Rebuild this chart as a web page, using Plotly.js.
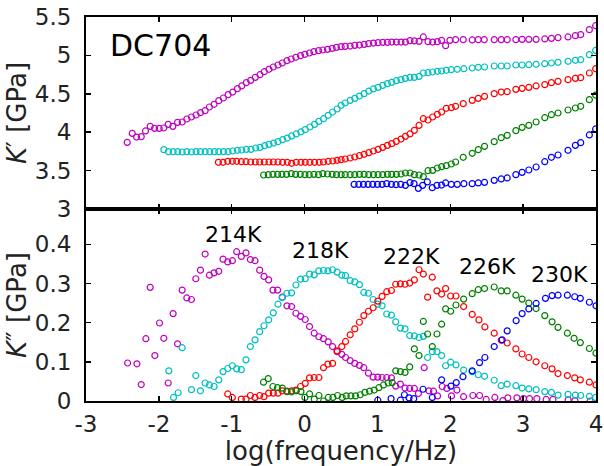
<!DOCTYPE html>
<html>
<head>
<meta charset="utf-8">
<script src="https://cdn.plot.ly/plotly-3.0.1.min.js"></script>
<style>html,body{margin:0;padding:0;background:#fff;}#chart{width:604px;height:466px;}</style>
</head>
<body>
<div id="chart"></div>
<script>
// ---- tick labels ----
const xTickVals = [-3,-2,-1,0,1,2,3,4];
const xTickText = ['-3','-2','-1','0','1','2','3','4'];

// ---- series names / colours ----
const temps = ['214K','218K','222K','226K','230K'];

// ---- K' (storage) ----
const x214p = [-2.434,-2.365,-2.306,-2.242,-2.183,-2.119,-2.059,-1.995,-1.932,-1.872,-1.808,-1.744,-1.680,-1.616,-1.553,-1.489,-1.429,-1.365,-1.306,-1.242,-1.178,-1.114,-1.050,-0.986,-0.922,-0.863,-0.799,-0.740,-0.676,-0.612,-0.553,-0.489,-0.429,-0.365,-0.306,-0.242,-0.183,-0.119,-0.055,0.005,0.068,0.128,0.192,0.251,0.315,0.379,0.438,0.502,0.557,0.626,0.689,0.753,0.817,0.881,0.945,1.009,1.073,1.137,1.196,1.260,1.324,1.384,1.447,1.507,1.571,1.630,1.694,1.758,1.822,1.881,1.936,1.995,2.073,2.178,2.301,2.384,2.466,2.603,2.699,2.781,2.900,2.986,3.078,3.178,3.297,3.388,3.479,3.616,3.717,3.790,3.909,3.995];
const kp214 = [3.868,3.985,3.937,3.942,4.016,4.076,4.050,4.050,4.055,4.102,4.076,4.128,4.133,4.172,4.198,4.224,4.254,4.280,4.328,4.363,4.411,4.445,4.489,4.523,4.567,4.602,4.645,4.675,4.714,4.749,4.788,4.819,4.849,4.875,4.901,4.931,4.953,4.975,4.997,5.014,5.031,5.049,5.062,5.070,5.079,5.092,5.105,5.114,5.118,5.122,5.131,5.135,5.144,5.153,5.161,5.166,5.170,5.170,5.174,5.174,5.174,5.174,5.192,5.188,5.183,5.240,5.179,5.174,5.179,5.196,5.127,5.196,5.205,5.205,5.201,5.205,5.205,5.205,5.205,5.205,5.205,5.209,5.209,5.209,5.214,5.222,5.231,5.240,5.257,5.270,5.335,5.387];

const x218p = [-1.932,-1.868,-1.804,-1.740,-1.680,-1.616,-1.553,-1.489,-1.429,-1.365,-1.301,-1.237,-1.178,-1.114,-1.050,-0.986,-0.922,-0.863,-0.799,-0.735,-0.671,-0.612,-0.548,-0.489,-0.425,-0.365,-0.301,-0.237,-0.178,-0.114,-0.050,0.009,0.073,0.137,0.196,0.260,0.324,0.384,0.447,0.502,0.557,0.626,0.689,0.753,0.817,0.881,0.945,1.009,1.073,1.137,1.196,1.260,1.324,1.384,1.447,1.507,1.571,1.630,1.694,1.758,1.822,1.881,1.945,2.014,2.096,2.187,2.301,2.384,2.470,2.603,2.699,2.781,2.900,2.986,3.078,3.178,3.297,3.388,3.479,3.616,3.717,3.790,3.909,3.995];
const kp218 = [3.773,3.747,3.747,3.747,3.742,3.747,3.742,3.747,3.747,3.747,3.747,3.747,3.747,3.747,3.747,3.755,3.764,3.768,3.777,3.777,3.794,3.803,3.825,3.842,3.859,3.877,3.903,3.924,3.951,3.977,4.003,4.033,4.068,4.102,4.141,4.176,4.220,4.263,4.302,4.350,4.380,4.415,4.441,4.471,4.502,4.536,4.563,4.584,4.610,4.632,4.649,4.671,4.684,4.701,4.714,4.714,4.727,4.771,4.775,4.784,4.793,4.797,4.806,4.814,4.819,4.827,4.836,4.845,4.849,4.862,4.862,4.862,4.875,4.875,4.879,4.884,4.892,4.901,4.910,4.923,4.936,4.944,5.010,5.066];

const x222p = [-1.183,-1.119,-1.055,-0.991,-0.932,-0.868,-0.804,-0.740,-0.676,-0.616,-0.553,-0.489,-0.429,-0.365,-0.301,-0.237,-0.178,-0.114,-0.050,0.009,0.073,0.137,0.201,0.260,0.324,0.388,0.447,0.502,0.557,0.626,0.689,0.753,0.817,0.881,0.945,1.009,1.073,1.137,1.196,1.260,1.324,1.384,1.447,1.507,1.571,1.630,1.694,1.758,1.822,1.881,1.945,2.014,2.073,2.178,2.301,2.384,2.470,2.603,2.699,2.781,2.900,2.986,3.078,3.178,3.297,3.388,3.479,3.616,3.717,3.790,3.909,3.995];
const kp222 = [3.608,3.608,3.621,3.621,3.621,3.616,3.616,3.612,3.612,3.612,3.612,3.612,3.612,3.612,3.608,3.608,3.595,3.608,3.608,3.608,3.608,3.608,3.608,3.612,3.621,3.625,3.634,3.642,3.651,3.664,3.677,3.694,3.712,3.734,3.755,3.777,3.803,3.829,3.851,3.881,3.911,3.946,3.977,4.024,4.089,4.176,4.159,4.198,4.233,4.263,4.311,4.319,4.337,4.372,4.415,4.441,4.467,4.502,4.523,4.528,4.558,4.571,4.584,4.602,4.619,4.645,4.662,4.684,4.701,4.710,4.771,4.827];

const x226p = [-0.562,-0.498,-0.434,-0.370,-0.311,-0.247,-0.183,-0.123,-0.059,0.005,0.064,0.128,0.192,0.251,0.315,0.379,0.438,0.502,0.557,0.626,0.689,0.753,0.817,0.881,0.945,1.009,1.073,1.137,1.196,1.260,1.324,1.384,1.447,1.507,1.571,1.630,1.694,1.758,1.822,1.881,1.945,2.014,2.073,2.178,2.301,2.384,2.470,2.603,2.699,2.781,2.900,2.986,3.078,3.178,3.297,3.388,3.479,3.616,3.717,3.790,3.909,3.995];
const kp226 = [3.443,3.447,3.451,3.451,3.451,3.451,3.460,3.451,3.451,3.447,3.447,3.451,3.447,3.460,3.456,3.451,3.447,3.447,3.447,3.447,3.447,3.451,3.451,3.447,3.447,3.447,3.447,3.451,3.451,3.451,3.456,3.469,3.469,3.447,3.443,3.421,3.499,3.503,3.534,3.551,3.564,3.586,3.612,3.673,3.725,3.773,3.816,3.877,3.929,3.959,4.020,4.063,4.089,4.133,4.189,4.228,4.250,4.289,4.315,4.337,4.424,4.484];

const x230p = [0.680,0.744,0.808,0.872,0.936,1.000,1.064,1.128,1.192,1.256,1.320,1.384,1.447,1.502,1.562,1.621,1.685,1.753,1.817,1.881,1.936,2.014,2.096,2.187,2.301,2.384,2.470,2.603,2.699,2.781,2.900,2.986,3.078,3.178,3.297,3.388,3.479,3.616,3.717,3.790,3.909,3.995];
const kp230 = [3.321,3.321,3.321,3.321,3.321,3.321,3.321,3.330,3.321,3.317,3.321,3.308,3.343,3.330,3.269,3.308,3.352,3.278,3.308,3.312,3.339,3.321,3.321,3.330,3.330,3.339,3.347,3.373,3.391,3.404,3.447,3.477,3.508,3.547,3.616,3.673,3.703,3.764,3.829,3.864,3.964,4.042];

// ---- K'' (loss) ----
const x214pp = [-2.429,-2.301,-2.242,-2.178,-2.119,-2.055,-1.991,-1.932,-1.872,-1.804,-1.744,-1.680,-1.616,-1.553,-1.493,-1.429,-1.365,-1.306,-1.242,-1.178,-1.119,-1.055,-0.991,-0.932,-0.868,-0.804,-0.744,-0.680,-0.616,-0.557,-0.493,-0.434,-0.370,-0.306,-0.242,-0.178,-0.119,-0.055,0.009,0.068,0.132,0.196,0.260,0.324,0.384,0.447,0.511,0.562,0.626,0.689,0.753,0.813,0.877,0.941,1.005,1.064,1.128,1.192,1.251,1.315,1.379,1.443,1.507,1.562,1.642,1.706,1.770,1.825,1.889,1.953,2.017,2.091,2.182,2.310,2.402,2.493,2.612,2.722,2.790,2.914,3.005,3.087,3.188,3.316,3.408,3.618,3.710,3.920];
const kpp214 = [0.097,0.095,0.042,0.159,0.290,0.116,0.199,0.160,0.046,0.223,0.146,0.283,0.263,0.259,0.312,0.334,0.375,0.321,0.327,0.331,0.362,0.355,0.358,0.381,0.369,0.378,0.361,0.358,0.334,0.318,0.309,0.283,0.283,0.265,0.243,0.241,0.224,0.216,0.208,0.190,0.173,0.164,0.159,0.151,0.139,0.126,0.119,0.111,0.103,0.096,0.091,0.085,0.071,0.061,0.061,0.060,0.060,0.059,0.038,0.043,0.033,0.032,0.032,0.019,0.085,0.026,0.025,0.013,0.037,0.032,0.013,0.028,0.011,0.014,0.014,0.004,0.009,0.001,0.008,0.008,0.006,0.006,0.006,0.004,0.004,0.003,0.001,0.000];

const x218pp = [-1.863,-1.799,-1.735,-1.680,-1.553,-1.493,-1.429,-1.365,-1.306,-1.242,-1.178,-1.119,-1.055,-0.991,-0.932,-0.868,-0.804,-0.744,-0.680,-0.616,-0.557,-0.493,-0.429,-0.365,-0.306,-0.242,-0.178,-0.119,-0.055,0.009,0.068,0.132,0.196,0.260,0.320,0.384,0.447,0.511,0.562,0.626,0.689,0.753,0.813,0.877,0.941,1.005,1.064,1.128,1.192,1.251,1.315,1.379,1.443,1.507,1.571,1.630,1.689,1.753,1.817,1.881,1.936,2.005,2.078,2.183,2.301,2.384,2.470,2.603,2.699,2.781,2.900,2.986,3.078,3.178,3.297,3.388,3.479,3.616,3.717,3.790,3.909,3.995];
const kpp218 = [0.077,0.009,0.021,0.136,0.029,0.065,0.026,0.046,0.041,0.037,0.054,0.075,0.083,0.090,0.082,0.080,0.105,0.139,0.156,0.177,0.192,0.207,0.225,0.247,0.264,0.275,0.276,0.296,0.311,0.312,0.324,0.322,0.332,0.333,0.332,0.335,0.329,0.321,0.320,0.307,0.304,0.297,0.277,0.275,0.259,0.247,0.243,0.222,0.219,0.202,0.186,0.184,0.167,0.166,0.162,0.165,0.111,0.126,0.126,0.116,0.090,0.099,0.092,0.079,0.075,0.067,0.063,0.053,0.039,0.043,0.039,0.033,0.031,0.029,0.024,0.022,0.015,0.017,0.015,0.014,0.012,0.009];

const x222pp = [-1.055,-0.991,-0.868,-0.804,-0.744,-0.680,-0.616,-0.557,-0.493,-0.429,-0.365,-0.306,-0.242,-0.178,-0.119,-0.055,0.009,0.068,0.132,0.196,0.260,0.320,0.384,0.447,0.511,0.562,0.626,0.689,0.753,0.813,0.877,0.941,1.005,1.064,1.128,1.192,1.251,1.315,1.379,1.443,1.507,1.571,1.630,1.689,1.753,1.817,1.881,1.936,2.005,2.078,2.183,2.301,2.393,2.475,2.603,2.699,2.781,2.900,2.986,3.078,3.178,3.297,3.397,3.479,3.607,3.708,3.785,3.909,4.000];
const kpp222 = [0.018,0.009,0.005,0.005,0.014,0.009,0.014,0.011,0.020,0.020,0.020,0.026,0.025,0.026,0.028,0.037,0.045,0.059,0.060,0.060,0.085,0.094,0.096,0.128,0.139,0.152,0.169,0.184,0.201,0.218,0.229,0.238,0.255,0.267,0.279,0.282,0.298,0.299,0.298,0.301,0.309,0.335,0.324,0.265,0.316,0.281,0.273,0.287,0.268,0.268,0.241,0.221,0.207,0.189,0.173,0.155,0.148,0.133,0.120,0.111,0.100,0.090,0.082,0.070,0.065,0.059,0.054,0.048,0.041];

const x226pp = [-0.563,-0.499,-0.435,-0.371,-0.306,-0.242,-0.178,-0.114,-0.050,0.005,0.069,0.133,0.197,0.261,0.325,0.389,0.453,0.517,0.572,0.636,0.700,0.764,0.828,0.892,0.956,1.020,1.084,1.148,1.203,1.251,1.315,1.379,1.443,1.507,1.571,1.630,1.689,1.753,1.817,1.881,1.936,2.005,2.078,2.183,2.301,2.384,2.470,2.603,2.699,2.781,2.900,2.986,3.078,3.178,3.297,3.397,3.479,3.607,3.699,3.785,3.909,4.000];
const kpp226 = [0.048,0.057,0.037,0.034,0.033,0.024,0.023,0.026,0.024,0.009,0.018,0.005,0.014,0.000,0.009,0.009,0.014,0.009,0.013,0.013,0.013,0.016,0.022,0.025,0.028,0.034,0.041,0.046,0.047,0.077,0.075,0.073,0.087,0.133,0.116,0.203,0.171,0.139,0.171,0.196,0.235,0.229,0.245,0.260,0.274,0.284,0.287,0.291,0.281,0.281,0.270,0.260,0.250,0.236,0.218,0.202,0.188,0.173,0.160,0.149,0.134,0.122];

const x230pp = [1.005,1.187,1.315,1.370,1.434,1.498,1.626,1.753,1.881,2.009,2.082,2.174,2.301,2.402,2.475,2.603,2.712,2.781,2.904,2.986,3.078,3.178,3.306,3.397,3.479,3.607,3.708,3.785,3.909,4.000];
const kpp230 = [0.002,0.006,0.002,0.016,0.008,0.006,0.030,0.009,0.054,0.038,0.047,0.062,0.077,0.098,0.111,0.139,0.156,0.179,0.205,0.223,0.235,0.249,0.262,0.269,0.270,0.270,0.266,0.262,0.252,0.243];

const colors = ['#bf00bf','#00bfbf','#ff0000','#008000','#0000ff'];
const topX = [x214p,x218p,x222p,x226p,x230p];
const topY = [kp214,kp218,kp222,kp226,kp230];
const botX = [x214pp,x218pp,x222pp,x226pp,x230pp];
const botY = [kpp214,kpp218,kpp222,kpp226,kpp230];

// annotation positions (data coords)
const labelX = [-0.981,0.214,1.462,2.513,3.493];
const labelY = [0.426,0.384,0.368,0.343,0.324];

const FONT = 'DejaVu Sans, Verdana, sans-serif';
const TXT = '#222222';

function mk(c){ return {symbol:'circle-open', size:6, color:c, line:{width:1.2, color:c}}; }

const traces = [];
for (let i=0;i<5;i++){
  traces.push({x:topX[i], y:topY[i], xaxis:'x2', yaxis:'y2', type:'scatter', mode:'markers', marker:mk(colors[i]), name:temps[i], showlegend:false});
  traces.push({x:botX[i], y:botY[i], xaxis:'x', yaxis:'y', type:'scatter', mode:'markers', marker:mk(colors[i]), name:temps[i], showlegend:false});
}

const axBase = {showline:true, linecolor:'#000', linewidth:2, mirror:'ticks', ticks:'inside', ticklen:5, tickwidth:1.5, tickcolor:'#000', showgrid:false, zeroline:false, tickfont:{family:FONT, size:23, color:TXT}};

const annotations = temps.map((t,i)=>({x:labelX[i], y:labelY[i], xref:'x', yref:'y', text:t, showarrow:false, xanchor:'center', yanchor:'middle', font:{family:FONT, size:22, color:'#000'}}));
annotations.push({x:-2.695, y:5.135, xref:'x2', yref:'y2', text:'DC704', showarrow:false, xanchor:'left', yanchor:'middle', font:{family:FONT, size:30, color:'#000'}});

const layout = {
  width:604, height:466,
  margin:{l:86, r:8, t:17, b:65},
  paper_bgcolor:'#fff', plot_bgcolor:'#fff',
  showlegend:false,
  font:{family:FONT, color:TXT},
  xaxis: Object.assign({}, axBase, {domain:[0,1], anchor:'y', range:[-3,4], tickvals:xTickVals, ticktext:xTickText, ticklabelstandoff:1,
          title:{text:'log(frequency/Hz)', font:{family:FONT, size:26, color:TXT}, standoff:0}}),
  xaxis2: Object.assign({}, axBase, {domain:[0,1], anchor:'y2', matches:'x', range:[-3,4], tickvals:xTickVals, showticklabels:false}),
  yaxis: Object.assign({}, axBase, {domain:[0,0.5], anchor:'x', range:[0,0.49], tickvals:[0,0.1,0.2,0.3,0.4], ticktext:['0','0.1','0.2','0.3','0.4'], ticklabelstandoff:8,
          title:{text:'<i>K</i>″ [GPa]', font:{family:FONT, size:26, color:TXT}, standoff:1}}),
  yaxis2: Object.assign({}, axBase, {domain:[0.5,1], anchor:'x2', range:[3,5.5], tickvals:[3,3.5,4,4.5,5,5.5], ticktext:['3','3.5','4','4.5','5','5.5'], ticklabelstandoff:8,
          title:{text:'<i>K</i>′ [GPa]', font:{family:FONT, size:26, color:TXT}, standoff:1}}),
  annotations: annotations
};

Plotly.newPlot('chart', traces, layout, {staticPlot:true, displayModeBar:false});
</script>
</body>
</html>
